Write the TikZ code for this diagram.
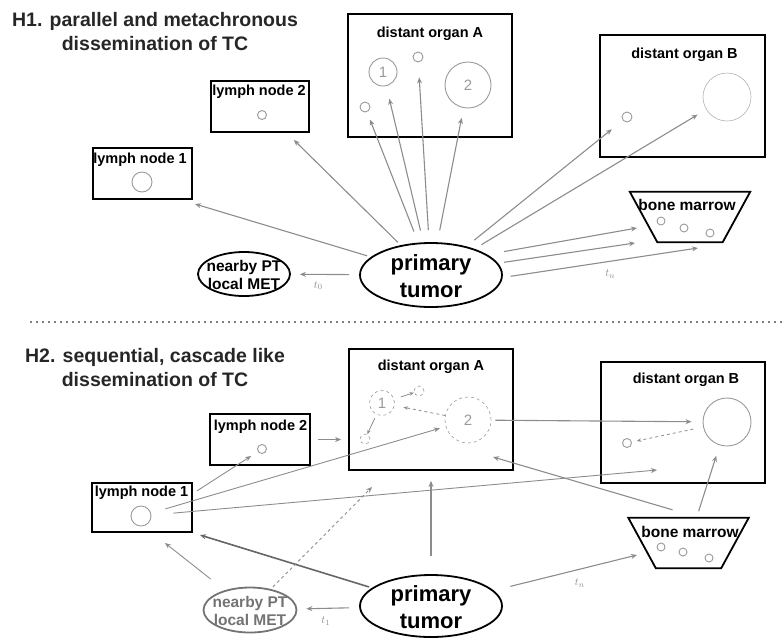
\documentclass[tikz,border=0pt]{standalone}
\usepackage{amsmath}
\usepackage{fontspec}
\setmainfont{Liberation Sans}
\usetikzlibrary{shapes.geometric,arrows.meta}

\begin{document}
\begin{tikzpicture}[>={Stealth[width=5pt,length=6pt]},
  box/.style={draw, line width=1.8pt, inner sep=0pt},
  blob/.style={draw, ellipse, line width=1.8pt, inner sep=0pt},
  marrow/.style={inner sep=0pt, minimum width=120pt, minimum height=50pt},
  funnel/.style={draw, line width=1.8pt, line join=miter},
  cell/.style={draw=black!40, circle, line width=0.9pt, inner sep=0pt, text=black!40, font=\fontsize{15}{15}\selectfont},
  hd/.style={align=center, text=black!85, font=\fontsize{19.5}{23.5}\selectfont\bfseries},
  lbl/.style={inner sep=0pt, font=\fontsize{14.5}{16}\selectfont\bfseries},
  tumlbl/.style={align=center, inner sep=0pt, font=\fontsize{22}{27}\selectfont\bfseries},
  nearlbl/.style={align=center, inner sep=0pt, font=\fontsize{15.5}{18}\selectfont\bfseries},
  tlbl/.style={text=black!45, font=\fontsize{11}{11}\selectfont},
  spread/.style={draw=black!45, line width=1.1pt},
  inner/.style={draw=black!45, line width=0.8pt, >={Stealth[width=3.5pt,length=4.5pt]}}]
\useasboundingbox (0pt, 0pt) rectangle (783pt, -638pt);

% H1: parallel
\draw (155.0pt, -31.5pt)node[hd](h1){H1. parallel and metachronous\\dissemination of TC};
\draw (431.0pt, -275.0pt)node[blob, minimum width=142pt, minimum height=64pt](tum1){};
\draw (431.0pt, -276.0pt)node[tumlbl](tum1t){primary\\tumor};
\draw (244.0pt, -274.0pt)node[blob, minimum width=92pt, minimum height=44pt](near1){};
\draw (244.0pt, -275.0pt)node[nearlbl](near1t){nearby PT\\local MET};
\draw (142.5pt, -173.5pt)node[box, minimum width=99pt, minimum height=51pt](ln11){};
\draw (140.0pt, -160.0pt)node[lbl](ln11t){lymph node 1};
\draw (260.0pt, -106.5pt)node[box, minimum width=98pt, minimum height=51pt](ln21){};
\draw (259.0pt, -92.0pt)node[lbl](ln21t){lymph node 2};
\draw (430.0pt, -75.5pt)node[box, minimum width=164pt, minimum height=123pt](orgA1){};
\draw (430.0pt, -34.0pt)node[lbl](orgA1t){distant organ A};
\draw (682.5pt, -96.0pt)node[box, minimum width=165pt, minimum height=122pt](orgB1){};
\draw (684.5pt, -55.0pt)node[lbl](orgB1t){distant organ B};
\draw (690.0pt, -217.0pt)node[marrow](bm1){};
\draw[funnel] (bm1.north west) -- (bm1.north east) -- ([xshift=-27.5pt]bm1.south east) -- ([xshift=27.5pt]bm1.south west) -- cycle;
\draw (687.0pt, -205.0pt)node[lbl, font=\fontsize{15.5}{16}\selectfont\bfseries](bm1t){bone marrow};
\draw (142.0pt, -182.0pt)node[cell, minimum size=20pt](c11){};
\draw (262.0pt, -115.0pt)node[cell, minimum size=9pt](c21){};
\draw (365.0pt, -107.0pt)node[cell, minimum size=10pt](a1s){};
\draw (383.0pt, -72.0pt)node[cell, minimum size=28pt](a1one){1};
\draw (418.0pt, -57.0pt)node[cell, minimum size=10pt](a1t){};
\draw (468.0pt, -85.0pt)node[cell, minimum size=46pt](a1two){2};
\draw (627.0pt, -117.0pt)node[cell, minimum size=10pt](b1s){};
\draw (727.0pt, -97.0pt)node[cell, draw=black!30, line width=0.6pt, minimum size=48pt](b1big){};
\draw (661.0pt, -221.0pt)node[cell, minimum size=8pt](m11){};
\draw (684.0pt, -228.0pt)node[cell, minimum size=8pt](m12){};
\draw (710.0pt, -233.0pt)node[cell, minimum size=8pt](m13){};
\coordinate (e11) at (195.0pt, -204.0pt);
\coordinate (e12) at (637.0pt, -228.0pt);
\coordinate (e13) at (635.0pt, -243.0pt);
\coordinate (e14) at (698.0pt, -248.0pt);
\path[->] (tum1) edge[spread, shorten <=4pt] (e11);
\path[->] (tum1) edge[spread, shorten <=4pt, shorten >=10pt] (ln21);
\path[->] (tum1) edge[spread, shorten <=10pt, shorten >=9pt] node[tlbl, pos=0.6, below=3pt]{$t_0$}(near1);
\path[->] (tum1) edge[spread, shorten <=12pt, shorten >=8pt] (a1s);
\path[->] (tum1) edge[spread, shorten <=12pt, shorten >=13pt] (a1one);
\path[->] (tum1) edge[spread, shorten <=12pt, shorten >=15pt] (a1t);
\path[->] (tum1) edge[spread, shorten <=12pt, shorten >=10pt] (a1two);
\path[->] (tum1) edge[spread, shorten <=10pt, shorten >=14pt] (b1s);
\path[->] (tum1) edge[spread, shorten <=8pt, shorten >=10pt] (b1big);
\path[->] (tum1.20) edge[spread, shorten <=17pt] (e12);
\path[->] (tum1.10) edge[spread, shorten <=6pt] (e13);
\path[->] (tum1.-2) edge[spread, shorten <=8pt] node[tlbl, pos=0.55, below=5pt]{$t_n$}(e14);

% separator
\draw[black!50, line width=1.8pt, dash pattern=on 1.5pt off 4.5pt] (30pt, -322pt) -- (783pt, -322pt);

% H2: sequential
\draw (155.0pt, -367.5pt)node[hd](h2){H2. sequential, cascade like\\dissemination of TC};
\draw (431.0pt, -606.0pt)node[blob, minimum width=142pt, minimum height=62pt](tum2){};
\draw (431.0pt, -607.0pt)node[tumlbl](tum2t){primary\\tumor};
\draw (250.0pt, -610.0pt)node[blob, draw=black!55, minimum width=93pt, minimum height=45pt](near2){};
\draw (250.0pt, -611.0pt)node[nearlbl, text=black!55](near2t){nearby PT\\local MET};
\draw (142.0pt, -507.5pt)node[box, minimum width=100pt, minimum height=49pt](ln12){};
\draw (141.5pt, -493.0pt)node[lbl](ln12t){lymph node 1};
\draw (260.0pt, -439.5pt)node[box, minimum width=100pt, minimum height=51pt](ln22){};
\draw (260.5pt, -427.0pt)node[lbl](ln22t){lymph node 2};
\draw (431.0pt, -409.5pt)node[box, minimum width=164pt, minimum height=121pt](orgA2){};
\draw (431.0pt, -367.0pt)node[lbl](orgA2t){distant organ A};
\draw (683.0pt, -422.5pt)node[box, minimum width=164pt, minimum height=121pt](orgB2){};
\draw (686.0pt, -380.0pt)node[lbl](orgB2t){distant organ B};
\draw (688.5pt, -543.0pt)node[marrow](bm2){};
\draw[funnel] (bm2.north west) -- (bm2.north east) -- ([xshift=-27.5pt]bm2.south east) -- ([xshift=27.5pt]bm2.south west) -- cycle;
\draw (690.0pt, -532.0pt)node[lbl, font=\fontsize{15.5}{16}\selectfont\bfseries](bm2t){bone marrow};
\draw (141.0pt, -516.0pt)node[cell, minimum size=20pt](c12){};
\draw (262.0pt, -449.0pt)node[cell, minimum size=9pt](c22){};
\draw (382.0pt, -403.0pt)node[cell, dashed, line width=0.6pt, minimum size=25pt](a2one){1};
\draw (419.0pt, -391.0pt)node[cell, dashed, line width=0.6pt, minimum size=10pt](a2t){};
\draw (365.0pt, -439.0pt)node[cell, dashed, line width=0.6pt, minimum size=10pt](a2s){};
\draw (468.0pt, -420.0pt)node[cell, dashed, line width=0.6pt, minimum size=46pt](a2two){2};
\draw (727.0pt, -422.0pt)node[cell, minimum size=48pt](b2big){};
\draw (627.0pt, -443.0pt)node[cell, minimum size=9pt](b2s){};
\draw (661.0pt, -547.0pt)node[cell, minimum size=8pt](m21){};
\draw (683.0pt, -552.0pt)node[cell, minimum size=8pt](m22){};
\draw (709.0pt, -558.0pt)node[cell, minimum size=8pt](m23){};
\coordinate (e21) at (657.0pt, -470.0pt);
\coordinate (e22) at (200.0pt, -535.0pt);
\coordinate (e23) at (637.0pt, -555.0pt);
\coordinate (e24) at (165.0pt, -543.0pt);
\coordinate (e25) at (372.0pt, -487.0pt);
\coordinate (e26) at (493.0pt, -457.0pt);
\path[->] (ln22.east) edge[spread, shorten <=7pt, shorten >=7pt] (ln22.east -| orgA2.west);
\path[->] (a2one) edge[inner, shorten <=7pt] (a2t);
\path[->] (a2one) edge[inner, shorten <=4pt] (a2s);
\path[->] (a2two) edge[inner, dashed, shorten >=9pt] (a2one);
\path[->] (c12) edge[spread, line width=0.9pt, shorten <=15pt, shorten >=6pt] (a2two);
\path[->] (c12) edge[spread, line width=0.9pt, shorten <=22pt] (e21);
\path[->] ([yshift=14pt]ln12.east) edge[spread, line width=0.9pt, shorten <=5pt, shorten >=8pt] (c22);
\path[->] (tum2) edge[spread, draw=black!60, line width=1.6pt, shorten <=3pt] (e22);
\path[->] (tum2) edge[spread, shorten <=18pt, shorten >=10pt] (orgA2);
\path[->] (tum2) edge[spread, shorten <=10pt, shorten >=9pt] node[tlbl, pos=0.54, below=5pt]{$t_1$}(near2);
\path[->] (tum2) edge[spread, shorten <=17pt] node[tlbl, pos=0.6, below=6pt]{$t_n$}(e23);
\path[->] (near2) edge[spread, line width=0.9pt, shorten <=18pt] (e24);
\path[->] (near2) edge[spread, dashed, line width=0.9pt, shorten <=3pt] (e25);
\path[->] (a2two) edge[spread, shorten <=4pt, shorten >=11pt] (b2big);
\path[->] (b2big) edge[inner, dashed, shorten <=10pt, shorten >=5pt] (b2s);
\path[->] (bm2) edge[spread, shorten <=7pt, shorten >=11pt] (b2big);
\path[->] ([shift={(-16pt,8pt)}]bm2.north) edge[spread] (e26);
\end{tikzpicture}
\end{document}
